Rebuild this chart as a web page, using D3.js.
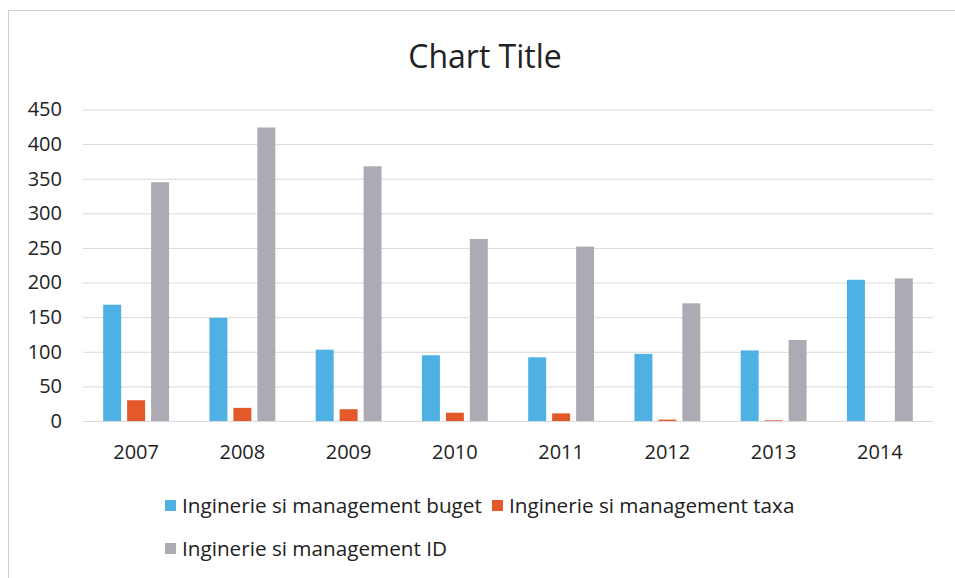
<!DOCTYPE html>
<html>
<head>
<meta charset="utf-8">
<script src="https://cdn.jsdelivr.net/npm/d3@7"></script>
<style>
  body { margin: 0; background: #fff; }
  svg { display: block; }
</style>
</head>
<body>
<div id="chart"></div>
<script>
// Données
const years = ["2007", "2008", "2009", "2010", "2011", "2012", "2013", "2014"];
const seriesNames = ["Inginerie si management buget", "Inginerie si management taxa", "Inginerie si management ID"];
const buget = [168, 149, 103, 95, 92, 97, 102, 204];
const taxa = [30, 19, 17, 12, 11, 2, 1, 0];
const idValues = [345, 424, 368, 263, 252, 170, 117, 206];
const yTicks = [0, 50, 100, 150, 200, 250, 300, 350, 400, 450];
const colors = ["#4fb0e4", "#e3592a", "#aeaab4"];

const allSeries = [buget, taxa, idValues];

const width = 955, height = 578;
const margin = { top: 109.5, right: 22, bottom: 157, left: 83 };
const font = "'Open Sans', sans-serif";

const svg = d3.select("#chart").append("svg")
    .attr("width", width)
    .attr("height", height)
    .style("font-family", font);

// Bordure du graphique
svg.append("rect")
    .attr("x", 8.5).attr("y", 10.5)
    .attr("width", width).attr("height", height)
    .attr("fill", "none")
    .attr("stroke", "#cfcfcf");

// Titre
svg.append("text")
    .attr("x", 485)
    .attr("y", 68)
    .attr("text-anchor", "middle")
    .attr("fill", "#222")
    .style("font-size", "32px")
    .text("Chart Title");

// Échelles
const x0 = d3.scaleBand()
    .domain(years)
    .range([margin.left, width - margin.right])
    .paddingInner(0.38)
    .paddingOuter(0.19);

const x1 = d3.scaleBand()
    .domain(d3.range(seriesNames.length))
    .range([0, x0.bandwidth()])
    .paddingInner(0.25);

const y = d3.scaleLinear()
    .domain([0, 450])
    .range([height - margin.bottom, margin.top]);

// Grille
const grid = svg.append("g")
    .attr("transform", `translate(${margin.left},0)`)
    .call(d3.axisLeft(y).tickValues(yTicks).tickSize(-(width - margin.left - margin.right)).tickFormat(""));
grid.select(".domain").remove();
grid.selectAll("line").attr("stroke", "#d9d9d9");

// Axe Y (étiquettes)
const yAxis = svg.append("g")
    .attr("transform", `translate(${margin.left - 21},0)`)
    .call(d3.axisLeft(y).tickValues(yTicks).tickSize(0));
yAxis.attr("font-family", font);
yAxis.select(".domain").remove();
yAxis.selectAll("text")
    .attr("fill", "#222")
    .attr("x", 0)
    .style("font-size", "20px");

// Barres
years.forEach(function(yr, i) {
    const g = svg.append("g").attr("transform", `translate(${x0(yr)},0)`);
    allSeries.forEach(function(s, k) {
        g.append("rect")
            .attr("x", x1(k))
            .attr("y", y(s[i]))
            .attr("width", x1.bandwidth())
            .attr("height", y(0) - y(s[i]))
            .attr("fill", colors[k]);
    });
});

// Axe X
const xAxis = svg.append("g")
    .attr("transform", `translate(0,${y(0)})`)
    .call(d3.axisBottom(x0).tickSize(0).tickPadding(24));
xAxis.attr("font-family", font);
xAxis.select(".domain").attr("stroke", "#d9d9d9");
xAxis.selectAll("text")
    .attr("fill", "#222")
    .style("font-size", "20px");

// Légende
const legendPos = [[165, 506], [492, 506], [165, 549]];
seriesNames.forEach(function(name, k) {
    const lg = svg.append("g").attr("transform", `translate(${legendPos[k][0]},${legendPos[k][1]})`);
    lg.append("rect")
        .attr("x", 0).attr("y", -6)
        .attr("width", 11).attr("height", 11)
        .attr("fill", colors[k]);
    lg.append("text")
        .attr("x", 17)
        .attr("y", 0)
        .attr("dy", "0.35em")
        .attr("fill", "#222")
        .style("font-size", "20.7px")
        .text(name);
});
</script>
</body>
</html>
